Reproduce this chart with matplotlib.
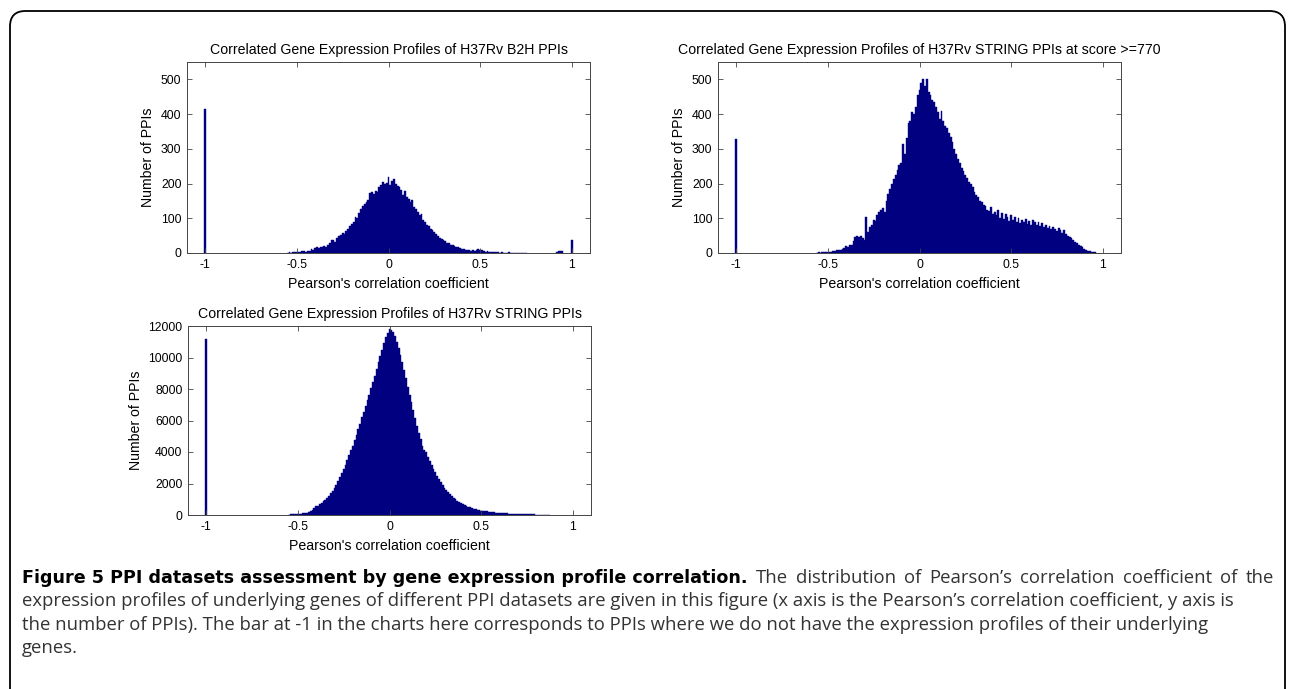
import numpy as np
import matplotlib
matplotlib.use("Agg")
import matplotlib.pyplot as plt
from matplotlib.patches import FancyBboxPatch

plt.rcParams['font.family'] = ['Liberation Sans', 'DejaVu Sans']

# bin width of the histograms
bw = 0.01

# B2H PPIs : counts per bin, first bin centre at -0.55
b2h_start = -0.55
b2h_counts = [1, 2, 1, 3, 2,
              3, 4, 3, 5, 6,
              4, 6, 5, 12, 10,
              14, 16, 15, 17, 18,
              20, 17, 24, 30, 38,
              36, 33, 42, 48, 52,
              58, 55, 62, 70, 78,
              84, 90, 105, 100, 115,
              128, 135, 140, 148, 152,
              172, 176, 170, 178, 175,
              190, 196, 205, 200, 202,
              218, 196, 208, 212, 198,
              192, 190, 182, 168, 178,
              160, 155, 148, 152, 132,
              128, 118, 108, 112, 96,
              88, 82, 78, 70, 66,
              60, 55, 50, 44, 40,
              36, 34, 30, 28, 24,
              22, 20, 18, 16, 14,
              12, 11, 9, 10, 8,
              7, 8, 6, 10, 11,
              10, 8, 6, 4, 5,
              3, 4, 2, 3, 2,
              2, 1, 2, 1, 1,
              1, 2, 1, 1, 0,
              1, 1, 0, 1, 1, 1]
b2h_extra_x = [-1.0, 0.92, 0.93, 0.94, 0.95, 1.0]
b2h_extra_y = [415, 4, 6, 5, 6, 36]

# STRING PPIs at score >= 770, first bin centre at -0.56
s770_start = -0.56
s770_counts = [1, 2, 1, 2, 3,
               2, 3, 4, 3, 6,
               5, 8, 10, 9, 12,
               15, 20, 18, 24, 22,
               35, 45, 48, 46, 50,
               42, 38, 105, 60, 75,
               82, 95, 92, 110, 118,
               125, 130, 118, 150, 170,
               185, 200, 212, 225, 240,
               252, 260, 315, 285, 330,
               375, 380, 405, 400, 420,
               455, 470, 490, 500, 480,
               500, 465, 455, 440, 435,
               420, 405, 385, 410, 380,
               365, 360, 345, 335, 320,
               300, 285, 270, 258, 245,
               235, 225, 215, 205, 198,
               190, 175, 168, 160, 150,
               148, 138, 135, 125, 120,
               132, 112, 118, 108, 125,
               100, 115, 98, 112, 105,
               92, 108, 96, 104, 90,
               100, 86, 95, 88, 98,
               84, 92, 80, 95, 88,
               82, 90, 78, 86, 75,
               80, 72, 78, 68, 74,
               70, 62, 72, 65, 58,
               66, 55, 50, 46, 42,
               38, 33, 28, 24, 20,
               16, 12, 10, 7, 5,
               4, 3, 2]
s770_extra_x = [-1.0]
s770_extra_y = [328]

# all STRING PPIs, first bin centre at -0.55
sall_start = -0.55
sall_counts = [30, 40, 45, 55, 60,
               50, 65, 80, 100, 125,
               150, 200, 260, 330, 440,
               540, 600, 680, 770, 860,
               970, 1080, 1220, 1370, 1530,
               1700, 1900, 2150, 2400, 2650,
               2900, 3200, 3500, 3800, 4100,
               4400, 4750, 5100, 5450, 5800,
               6200, 6550, 6900, 7300, 7650,
               8050, 8450, 8850, 9300, 9700,
               10100, 10500, 10900, 11300, 11550,
               11800, 11750, 11600, 11350, 11000,
               10600, 10150, 9700, 9200, 8700,
               8150, 7650, 7150, 6650, 6150,
               5650, 5200, 4800, 4400, 4150,
               4000, 3700, 3400, 3150, 2900,
               2700, 2500, 2300, 2100, 1900,
               1700, 1580, 1450, 1330, 1220,
               1100, 1000, 910, 830, 760,
               690, 630, 580, 530, 480,
               430, 390, 355, 325, 300,
               275, 255, 240, 225, 210,
               195, 180, 168, 155, 145,
               135, 125, 115, 108, 100,
               92, 86, 80, 75, 70,
               65, 60, 56, 52, 48,
               45, 42, 38, 35, 32,
               28, 25, 20, 16, 12,
               8, 5, 3]
sall_extra_x = [-1.0]
sall_extra_y = [11150]

titles = ["Correlated Gene Expression Profiles of H37Rv B2H PPIs",
          "Correlated Gene Expression Profiles of H37Rv STRING PPIs at score >=770",
          "Correlated Gene Expression Profiles of H37Rv STRING PPIs"]
xlab = "Pearson's correlation coefficient"
ylab = "Number of PPIs"
xticks = [-1, -0.5, 0, 0.5, 1]
xticklabels = ["-1", "-0.5", "0", "0.5", "1"]

cap_bold = "Figure 5 PPI datasets assessment by gene expression profile correlation."
cap_first = "The distribution of Pearson\u2019s correlation coefficient of the"
cap_lines = ["expression profiles of underlying genes of different PPI datasets are given in this figure (x axis is the Pearson\u2019s correlation coefficient, y axis is",
             "the number of PPIs). The bar at -1 in the charts here corresponds to PPIs where we do not have the expression profiles of their underlying",
             "genes."]

W, H = 1290, 689
bar_col = "#000080"

fig = plt.figure(figsize=(W / 100, H / 100), dpi=100)


def px_axes(l, t, r, b):
    return fig.add_axes([l / W, 1 - b / H, (r - l) / W, (b - t) / H])


def draw_hist(ax, start, counts, ex_x, ex_y, title, ymax, ystep):
    centres = np.round(start + bw * np.arange(len(counts)), 2)
    ax.bar(centres, counts, width=bw, color=bar_col, edgecolor=bar_col, linewidth=0.3)
    ax.bar(ex_x, ex_y, width=bw, color=bar_col, edgecolor=bar_col, linewidth=0.3)
    ax.set_xlim(-1.1, 1.1)
    ax.set_ylim(0, ymax)
    ax.set_xticks(xticks)
    ax.set_xticklabels(xticklabels)
    ax.set_yticks(np.arange(0, ymax + 1, ystep))
    ax.tick_params(direction="in", top=True, right=True, length=3.5, width=0.6,
                   labelsize=8.8, pad=4, color="#444444")
    for s in ax.spines.values():
        s.set_color("#444444")
        s.set_linewidth(0.7)
    ax.set_title(title, fontsize=10.2, pad=6)
    ax.set_xlabel(xlab, fontsize=10.2, labelpad=5)
    ax.set_ylabel(ylab, fontsize=10.2, labelpad=4)


ax1 = px_axes(187, 62, 590, 253)
draw_hist(ax1, b2h_start, b2h_counts, b2h_extra_x, b2h_extra_y, titles[0], 550, 100)
ax1.set_yticks(np.arange(0, 501, 100))

ax2 = px_axes(718, 62, 1121, 253)
draw_hist(ax2, s770_start, s770_counts, s770_extra_x, s770_extra_y, titles[1], 550, 100)
ax2.set_yticks(np.arange(0, 501, 100))

ax3 = px_axes(188, 326, 591, 515)
draw_hist(ax3, sall_start, sall_counts, sall_extra_x, sall_extra_y, titles[2], 12000, 2000)

# rounded frame around the figure
frame = FancyBboxPatch((10 / W, -0.2), (1285 - 10) / W, 1 - 11 / H + 0.2,
                       boxstyle="round,pad=0,rounding_size=0.012",
                       transform=fig.transFigure, fill=False,
                       edgecolor="black", linewidth=1.3, mutation_aspect=W / H)
fig.add_artist(frame)

# caption
cap_font = ["Open Sans", "DejaVu Sans"]
cap_col = "#333333"
fs = 13.3
y1 = 1 - 578 / H
tb = fig.text(22 / W, y1, cap_bold, fontsize=12.6, fontweight="bold",
              family=["DejaVu Sans"], color="black", va="center")

# first line is justified: spread the words between the bold part and the right edge
rend = fig.canvas.get_renderer()
x0 = tb.get_window_extent(rend).x1
words = cap_first.split(" ")
wtexts = [fig.text(0, y1, w, fontsize=fs, family=cap_font, color=cap_col, va="center")
          for w in words]
widths = [t.get_window_extent(rend).width for t in wtexts]
gap = (1274 - x0 - sum(widths)) / len(words)
x = x0 + gap
for t, wd in zip(wtexts, widths):
    t.set_x(x / W)
    x += wd + gap

cap_y = [601, 625, 648]
for line, yy in zip(cap_lines, cap_y):
    fig.text(22 / W, 1 - yy / H, line, fontsize=fs, family=cap_font, color=cap_col, va="center")

fig.savefig("out.png", dpi=100)
